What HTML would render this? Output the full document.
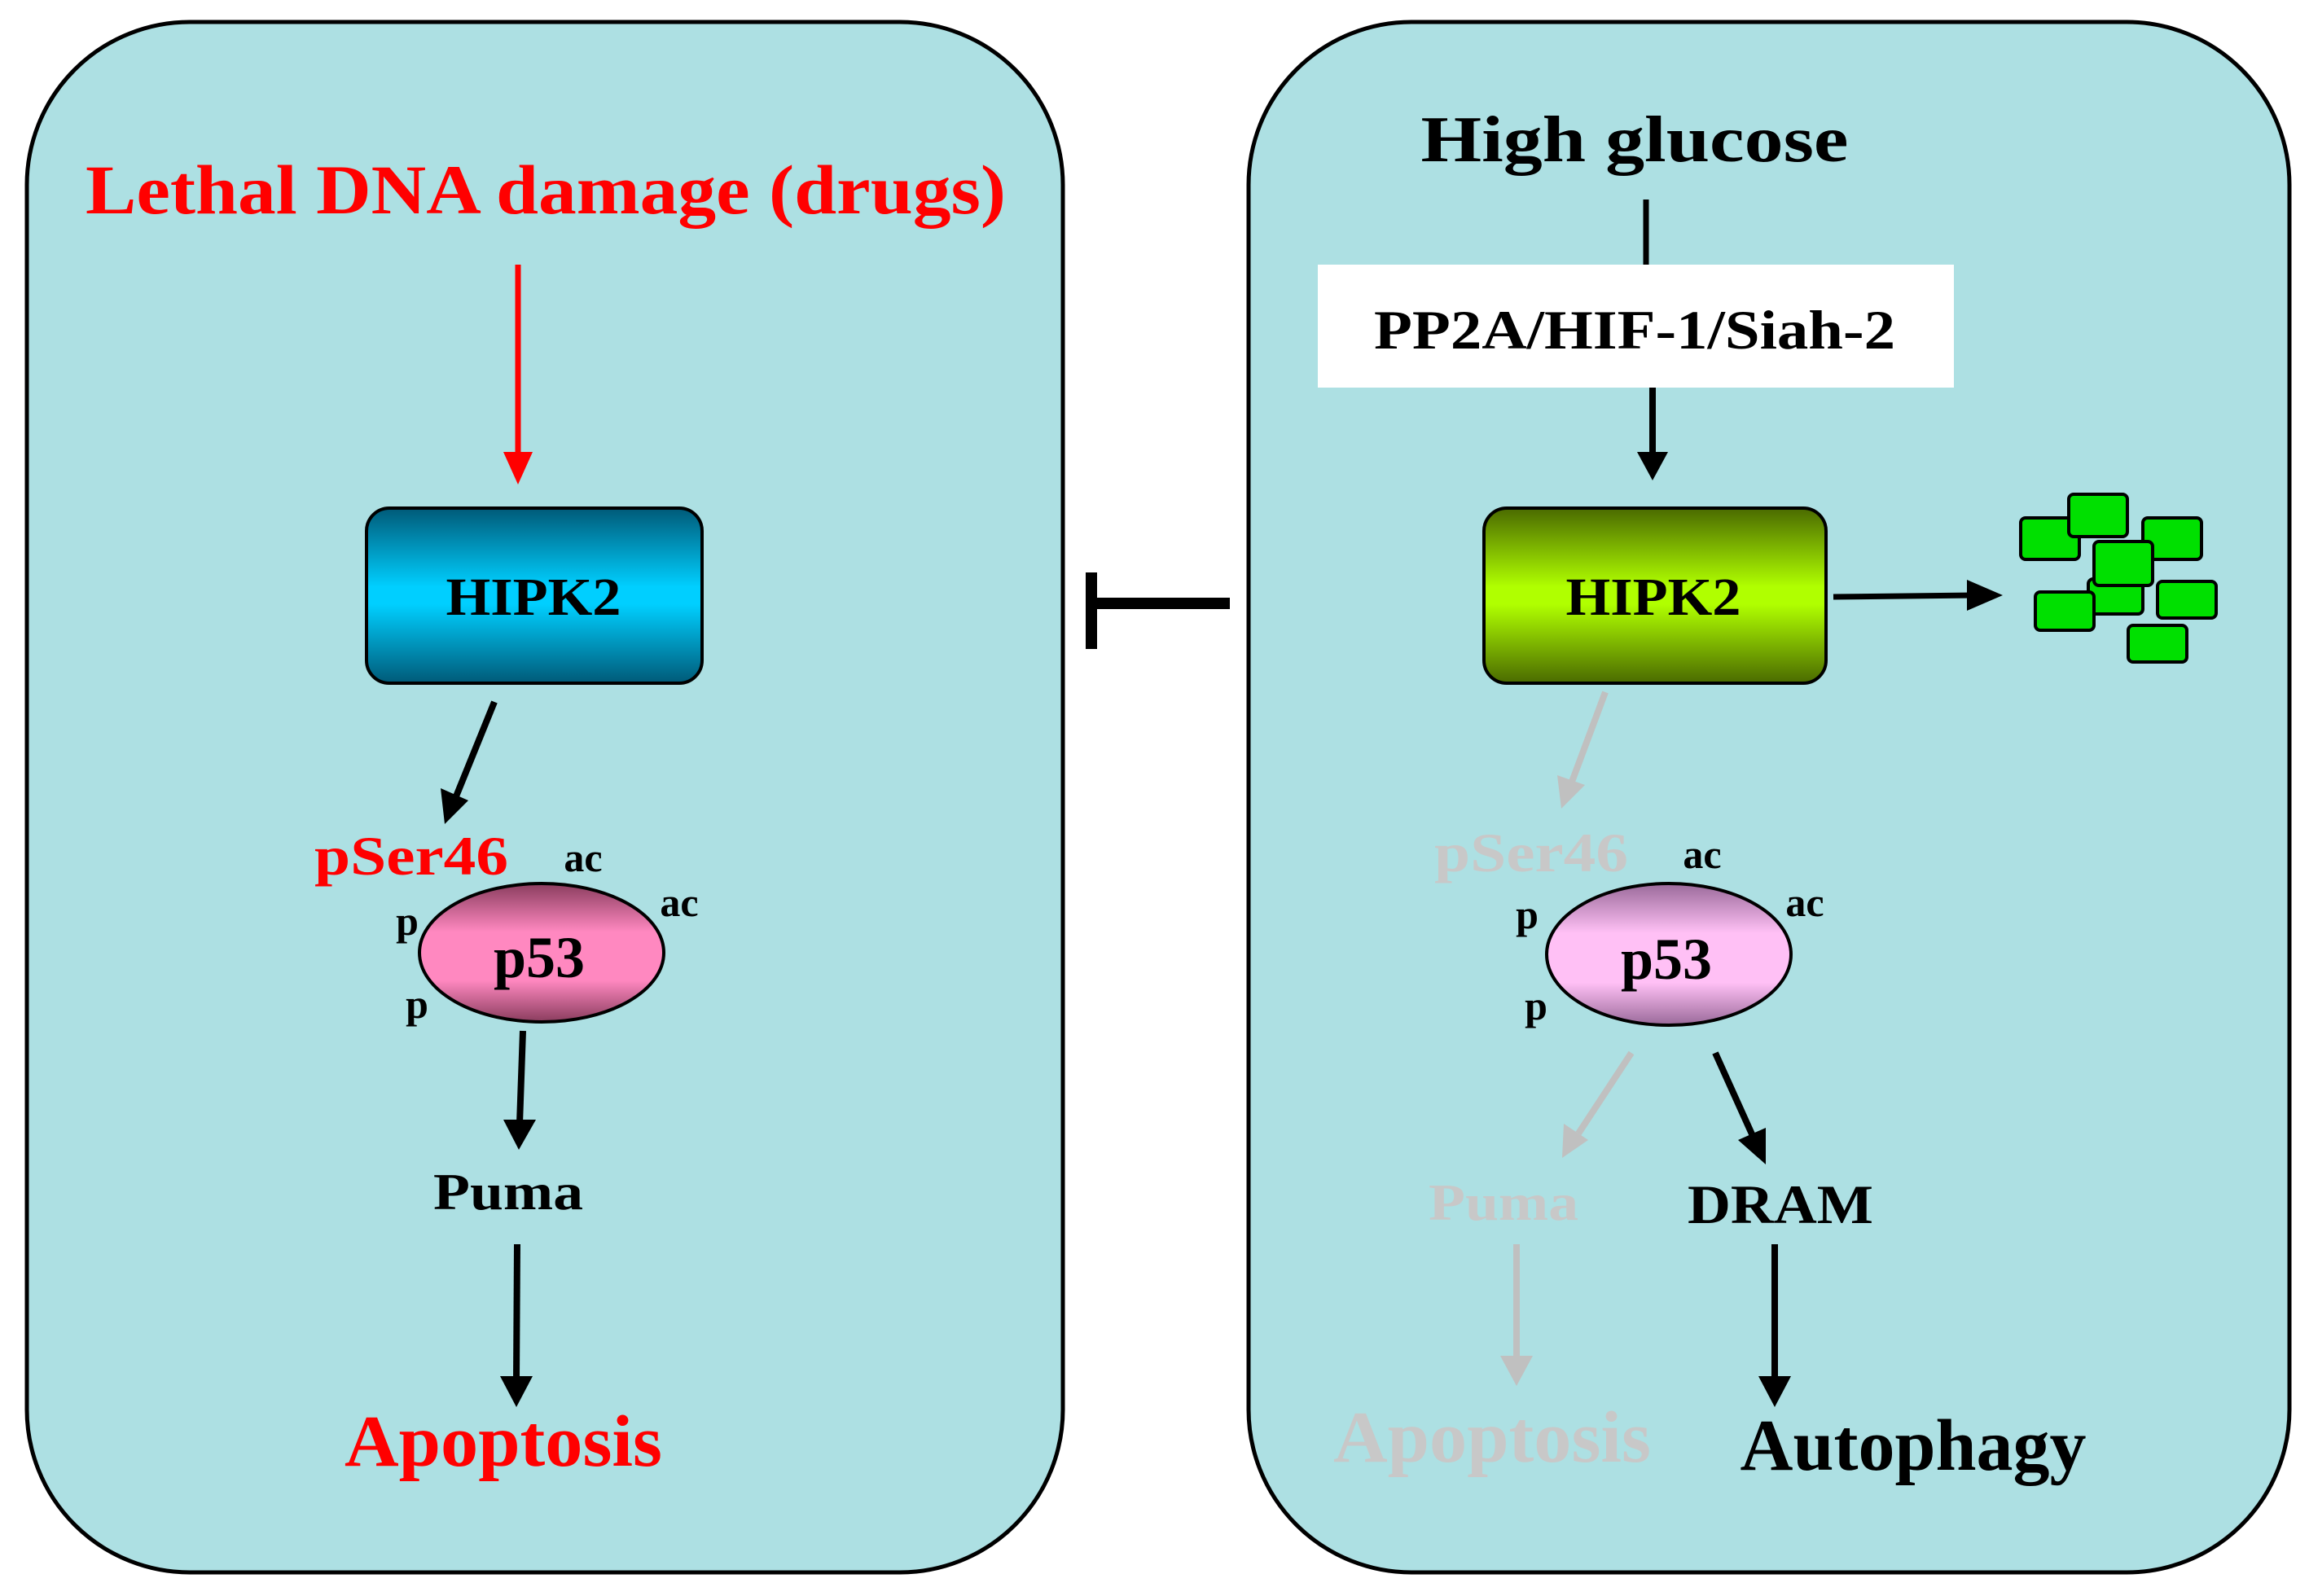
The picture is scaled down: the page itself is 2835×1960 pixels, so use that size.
<!DOCTYPE html>
<html><head><meta charset="utf-8"><style>
html,body{margin:0;padding:0;background:#fff;}
svg{display:block;}
text{font-family:"Liberation Serif",serif;font-weight:bold;text-anchor:middle;}
</style></head><body>
<svg width="2835" height="1960" viewBox="0 0 2835 1960" xmlns="http://www.w3.org/2000/svg">
<defs>
<linearGradient id="blue" x1="0" y1="0" x2="0" y2="1">
<stop offset="0" stop-color="#005a78"/><stop offset="0.45" stop-color="#00cfff"/><stop offset="0.55" stop-color="#00cfff"/><stop offset="1" stop-color="#005a78"/></linearGradient>
<linearGradient id="green" x1="0" y1="0" x2="0" y2="1">
<stop offset="0" stop-color="#4a6a00"/><stop offset="0.45" stop-color="#b0ff00"/><stop offset="0.55" stop-color="#b0ff00"/><stop offset="1" stop-color="#4a6a00"/></linearGradient>
<linearGradient id="pink" x1="0" y1="0" x2="0" y2="1">
<stop offset="0" stop-color="#8a3d5e"/><stop offset="0.35" stop-color="#ff88c0"/><stop offset="0.7" stop-color="#ff88c0"/><stop offset="1" stop-color="#8a3d5e"/></linearGradient>
<linearGradient id="lpink" x1="0" y1="0" x2="0" y2="1">
<stop offset="0" stop-color="#9a6a9a"/><stop offset="0.35" stop-color="#ffc0f5"/><stop offset="0.7" stop-color="#ffc0f5"/><stop offset="1" stop-color="#9a6a9a"/></linearGradient>
</defs>
<rect x="33" y="27" width="1272" height="1904" rx="200" fill="#ade0e3" stroke="#000" stroke-width="5"/>
<rect x="1533" y="27" width="1278" height="1904" rx="200" fill="#ade0e3" stroke="#000" stroke-width="5"/>

<!-- Left -->
<text x="670" y="262" font-size="86" fill="#ff0000" textLength="1130" lengthAdjust="spacingAndGlyphs">Lethal DNA damage (drugs)</text>
<line x1="636" y1="325" x2="636" y2="560" stroke="#ff0000" stroke-width="7"/>
<polygon points="618,555 654,555 636,595" fill="#ff0000"/>
<rect x="450" y="624" width="412" height="215" rx="28" fill="url(#blue)" stroke="#000" stroke-width="4"/>
<text x="655" y="755" font-size="66" fill="#000" textLength="215" lengthAdjust="spacingAndGlyphs">HIPK2</text>
<line x1="607" y1="862" x2="560" y2="978" stroke="#000" stroke-width="8"/>
<polygon points="541,968 575,983 546,1012" fill="#000"/>
<text x="505" y="1074" font-size="68" fill="#ff0000" textLength="238" lengthAdjust="spacingAndGlyphs">pSer46</text>
<text x="716" y="1070" font-size="50" fill="#000">ac</text>
<text x="834" y="1125" font-size="50" fill="#000">ac</text>
<text x="500" y="1148" font-size="50" fill="#000">p</text>
<text x="512" y="1250" font-size="50" fill="#000">p</text>
<ellipse cx="665" cy="1170" rx="150" ry="85" fill="url(#pink)" stroke="#000" stroke-width="4"/>
<text x="662" y="1200" font-size="72" fill="#000">p53</text>
<line x1="642" y1="1266" x2="638" y2="1380" stroke="#000" stroke-width="8"/>
<polygon points="618,1375 658,1375 637,1412" fill="#000"/>
<text x="624" y="1485" font-size="64" fill="#000" textLength="184" lengthAdjust="spacingAndGlyphs">Puma</text>
<line x1="635" y1="1528" x2="634" y2="1695" stroke="#000" stroke-width="8"/>
<polygon points="614,1690 654,1690 634,1728" fill="#000"/>
<text x="618" y="1800" font-size="90" fill="#ff0000" textLength="390" lengthAdjust="spacingAndGlyphs">Apoptosis</text>

<!-- inhibition -->
<line x1="1338" y1="741" x2="1510" y2="741" stroke="#000" stroke-width="14"/>
<line x1="1340" y1="703" x2="1340" y2="797" stroke="#000" stroke-width="14"/>

<!-- Right -->
<text x="2007" y="198" font-size="80" fill="#000" textLength="525" lengthAdjust="spacingAndGlyphs">High glucose</text>
<line x1="2021" y1="245" x2="2021" y2="325" stroke="#000" stroke-width="7"/>
<rect x="1618" y="325" width="781" height="151" fill="#fff"/>
<text x="2007" y="428" font-size="68" fill="#000" textLength="640" lengthAdjust="spacingAndGlyphs">PP2A/HIF-1/Siah-2</text>
<line x1="2029" y1="476" x2="2029" y2="560" stroke="#000" stroke-width="8"/>
<polygon points="2010,555 2048,555 2029,590" fill="#000"/>
<rect x="1822" y="624" width="420" height="215" rx="28" fill="url(#green)" stroke="#000" stroke-width="4"/>
<text x="2030" y="755" font-size="66" fill="#000" textLength="215" lengthAdjust="spacingAndGlyphs">HIPK2</text>
<line x1="2251" y1="733" x2="2420" y2="731" stroke="#000" stroke-width="7"/>
<polygon points="2415,712 2459,731 2415,750" fill="#000"/>
<g fill="#00e000" stroke="#000" stroke-width="4">
<rect x="2564" y="711" width="67" height="43" rx="6"/>
<rect x="2481" y="636" width="72" height="51" rx="6"/>
<rect x="2540" y="607" width="72" height="52" rx="6"/>
<rect x="2631" y="636" width="72" height="51" rx="6"/>
<rect x="2571" y="665" width="72" height="54" rx="6"/>
<rect x="2649" y="714" width="72" height="45" rx="6"/>
<rect x="2499" y="727" width="72" height="47" rx="6"/>
<rect x="2613" y="768" width="72" height="45" rx="6"/>
</g>
<line x1="1971" y1="850" x2="1930" y2="960" stroke="#c0c0c0" stroke-width="8"/>
<polygon points="1912,952 1946,964 1917,993" fill="#c0c0c0"/>
<text x="1880" y="1070" font-size="68" fill="#c8c8c8" textLength="238" lengthAdjust="spacingAndGlyphs">pSer46</text>
<text x="2090" y="1066" font-size="50" fill="#000">ac</text>
<text x="2216" y="1125" font-size="50" fill="#000">ac</text>
<text x="1875" y="1140" font-size="50" fill="#000">p</text>
<text x="1886" y="1252" font-size="50" fill="#000">p</text>
<ellipse cx="2049" cy="1172" rx="150" ry="87" fill="url(#lpink)" stroke="#000" stroke-width="4"/>
<text x="2046" y="1202" font-size="72" fill="#000">p53</text>
<line x1="2003" y1="1293" x2="1938" y2="1392" stroke="#c0c0c0" stroke-width="8"/>
<polygon points="1920,1380 1950,1400 1918,1422" fill="#c0c0c0"/>
<line x1="2106" y1="1293" x2="2152" y2="1395" stroke="#000" stroke-width="8"/>
<polygon points="2134,1400 2168,1385 2168,1430" fill="#000"/>
<text x="1846" y="1498" font-size="64" fill="#c8c8c8" textLength="184" lengthAdjust="spacingAndGlyphs">Puma</text>
<text x="2186" y="1502" font-size="68" fill="#000" textLength="228" lengthAdjust="spacingAndGlyphs">DRAM</text>
<line x1="1862" y1="1528" x2="1862" y2="1670" stroke="#c0c0c0" stroke-width="8"/>
<polygon points="1842,1665 1882,1665 1862,1702" fill="#c0c0c0"/>
<line x1="2179" y1="1528" x2="2179" y2="1695" stroke="#000" stroke-width="8"/>
<polygon points="2159,1690 2199,1690 2179,1728" fill="#000"/>
<text x="1832" y="1795" font-size="90" fill="#c8c8c8" textLength="390" lengthAdjust="spacingAndGlyphs">Apoptosis</text>
<text x="2349" y="1805" font-size="90" fill="#000" textLength="425" lengthAdjust="spacingAndGlyphs">Autophagy</text>
</svg>
</body></html>
